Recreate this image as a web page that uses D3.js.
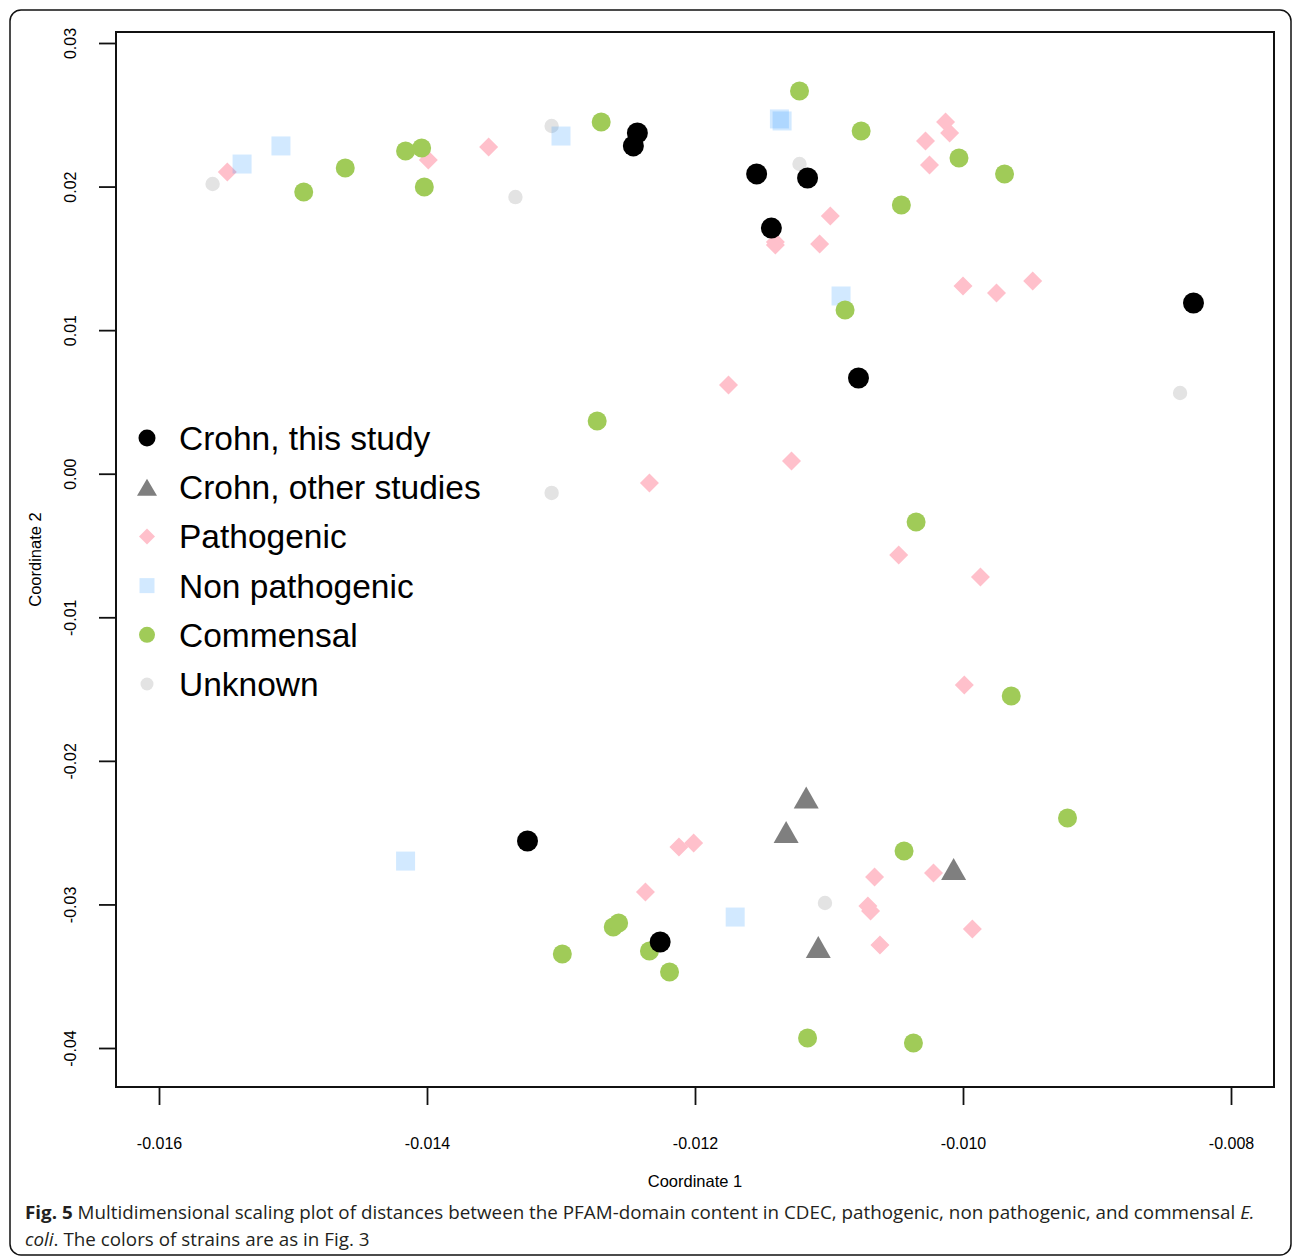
<!DOCTYPE html>
<html lang="en">
<head>
  <meta charset="UTF-8">
  <title>MDS plot of PFAM-domain content</title>
  <script src="https://d3js.org/d3.v7.min.js"></script>
  <style>
    body { margin: 0; background: #fff; }
    svg { display: block; }
    .tick text { font-family: "Liberation Sans", Arial, sans-serif; font-size: 16px; fill: #000; }
  </style>
</head>
<body>
  <svg width="1293" height="1257"></svg>
  <script>
    // ---- data ----
    const groups = ["Crohn, this study", "Crohn, other studies", "Pathogenic", "Non pathogenic", "Commensal", "Unknown"];

    const crohnThisX = [-0.01243, -0.01246, -0.01154, -0.01116, -0.01143, -0.00828, -0.01078, -0.01325, -0.01226];
    const crohnThisY = [0.02373, 0.02283, 0.02088, 0.02060, 0.01711, 0.01189, 0.00667, -0.02558, -0.03262];

    const crohnOtherX = [-0.01117, -0.01132, -0.01007, -0.01108];
    const crohnOtherY = [-0.02255, -0.02496, -0.02753, -0.03297];

    const pathoX = [-0.01549, -0.01399, -0.01354, -0.01013, -0.01010, -0.01028, -0.01025, -0.01099, -0.01140, -0.01140,
                    -0.01107, -0.01000, -0.00975, -0.00948, -0.01175, -0.01128, -0.01234, -0.01048, -0.00987, -0.00999,
                    -0.01212, -0.01201, -0.01237, -0.01066, -0.01071, -0.01069, -0.01022, -0.01062, -0.00993];
    const pathoY = [0.02101, 0.02185, 0.02276, 0.02450, 0.02373, 0.02317, 0.02150, 0.01795, 0.01614, 0.01593,
                    0.01600, 0.01307, 0.01259, 0.01342, 0.00618, 0.00089, -0.00065, -0.00566, -0.00719, -0.01472,
                    -0.02600, -0.02572, -0.02913, -0.02809, -0.03011, -0.03046, -0.02781, -0.03283, -0.03171];

    const nonPathoX = [-0.01538, -0.01509, -0.01300, -0.01137, -0.01135, -0.01091, -0.01416, -0.01170];
    const nonPathoY = [0.02157, 0.02283, 0.02352, 0.02471, 0.02457, 0.01238, -0.02698, -0.03088];

    const commX = [-0.01492, -0.01461, -0.01416, -0.01404, -0.01402, -0.01270, -0.01122, -0.01076, -0.01003, -0.00969,
                   -0.01046, -0.01088, -0.01273, -0.01035, -0.00964, -0.00922, -0.01044, -0.01261, -0.01257, -0.01299,
                   -0.01234, -0.01219, -0.01116, -0.01037];
    const commY = [0.01962, 0.02129, 0.02248, 0.02269, 0.01997, 0.02450, 0.02666, 0.02387, 0.02199, 0.02088,
                   0.01872, 0.01140, 0.00367, -0.00336, -0.01548, -0.02398, -0.02628, -0.03157, -0.03129, -0.03345,
                   -0.03324, -0.03471, -0.03930, -0.03965];

    const unkX = [-0.01560, -0.01334, -0.01307, -0.01122, -0.01307, -0.00838, -0.01103];
    const unkY = [0.02018, 0.01927, 0.02422, 0.02157, -0.00134, 0.00562, -0.02990];

    const xTicks = [-0.016, -0.014, -0.012, -0.010, -0.008];
    const xTickLabels = ["-0.016", "-0.014", "-0.012", "-0.010", "-0.008"];
    const yTicks = [0.03, 0.02, 0.01, 0.00, -0.01, -0.02, -0.03, -0.04];
    const yTickLabels = ["0.03", "0.02", "0.01", "0.00", "-0.01", "-0.02", "-0.03", "-0.04"];

    // ---- layout ----
    const box = { left: 116, right: 1274, top: 32, bottom: 1087 };
    const x = d3.scaleLinear().domain([-0.016, -0.008]).range([159, 1231]);
    const y = d3.scaleLinear().domain([0.03, -0.04]).range([43, 1048]);

    const svg = d3.select("svg");
    const font = "'Liberation Sans', Arial, sans-serif";

    // outer figure frame
    svg.append("rect")
       .attr("x", 10).attr("y", 10).attr("width", 1281).attr("height", 1245)
       .attr("rx", 11)
       .attr("fill", "none").attr("stroke", "#111").attr("stroke-width", 1.5);

    // marker shapes
    const diamond = h => `M0,${-h}L${h},0L0,${h}L${-h},0Z`;
    const square = s => `M${-s / 2},${-s / 2}h${s}v${s}h${-s}Z`;
    const triangle = (w, h) => `M0,${-h / 2}L${w / 2},${h / 2}L${-w / 2},${h / 2}Z`;

    const styles = {
      "Crohn, this study":    { kind: "circle", r: 10.5, fill: "#000" },
      "Crohn, other studies": { kind: "path", d: triangle(25, 22), fill: "#7f7f7f" },
      "Pathogenic":           { kind: "path", d: diamond(9.5), fill: "#ffc0cb" },
      "Non pathogenic":       { kind: "path", d: square(19), fill: "#1e90ff", opacity: 0.2 },
      "Commensal":            { kind: "circle", r: 9.5, fill: "#a0cb58" },
      "Unknown":              { kind: "circle", r: 7.2, fill: "#e3e3e3" }
    };
    const legendStyles = {
      "Crohn, this study":    { kind: "circle", r: 8.5, fill: "#000" },
      "Crohn, other studies": { kind: "path", d: triangle(20, 17), fill: "#7f7f7f" },
      "Pathogenic":           { kind: "path", d: diamond(8), fill: "#ffc0cb" },
      "Non pathogenic":       { kind: "path", d: square(15), fill: "#1e90ff", opacity: 0.2 },
      "Commensal":            { kind: "circle", r: 8, fill: "#a0cb58" },
      "Unknown":              { kind: "circle", r: 6.5, fill: "#e3e3e3" }
    };

    function pts(xs, ys) { return xs.map((v, i) => ({ x: v, y: ys[i] })); }

    // drawing order as in the figure
    const layers = [
      ["Unknown", pts(unkX, unkY)],
      ["Pathogenic", pts(pathoX, pathoY)],
      ["Non pathogenic", pts(nonPathoX, nonPathoY)],
      ["Commensal", pts(commX, commY)],
      ["Crohn, other studies", pts(crohnOtherX, crohnOtherY)],
      ["Crohn, this study", pts(crohnThisX, crohnThisY)]
    ];

    const plot = svg.append("g");
    layers.forEach(([name, data]) => {
      const st = styles[name];
      const g = plot.append("g");
      if (st.kind === "circle") {
        g.selectAll("circle").data(data).enter().append("circle")
         .attr("cx", d => x(d.x)).attr("cy", d => y(d.y))
         .attr("r", st.r).attr("fill", st.fill);
      } else {
        g.selectAll("path").data(data).enter().append("path")
         .attr("d", st.d)
         .attr("transform", d => `translate(${x(d.x)},${y(d.y)})`)
         .attr("fill", st.fill)
         .attr("fill-opacity", st.opacity || 1);
      }
    });

    // plot box
    svg.append("rect")
       .attr("x", box.left).attr("y", box.top)
       .attr("width", box.right - box.left).attr("height", box.bottom - box.top)
       .attr("fill", "none").attr("stroke", "#111").attr("stroke-width", 2);

    // x axis
    const xAxis = svg.append("g")
       .attr("transform", `translate(0,${box.bottom})`)
       .call(d3.axisBottom(x).tickValues(xTicks).tickFormat((d, i) => xTickLabels[i])
              .tickSize(18).tickPadding(33));
    xAxis.select(".domain").remove();
    xAxis.selectAll(".tick line").attr("stroke", "#111").attr("stroke-width", 1.8);

    // y axis
    const yAxis = svg.append("g")
       .attr("transform", `translate(${box.left},0)`)
       .call(d3.axisLeft(y).tickValues(yTicks).tickFormat((d, i) => yTickLabels[i]).tickSize(17));
    yAxis.select(".domain").remove();
    yAxis.selectAll(".tick line").attr("stroke", "#111").attr("stroke-width", 1.8);
    yAxis.selectAll(".tick text")
       .attr("x", 0).attr("dy", 0)
       .attr("text-anchor", "middle")
       .attr("transform", "translate(-40,0) rotate(-90)");

    // axis titles
    svg.append("text")
       .attr("x", (box.left + box.right) / 2).attr("y", 1187)
       .attr("text-anchor", "middle")
       .style("font-family", font).style("font-size", "16.5px")
       .text("Coordinate 1");
    svg.append("text")
       .attr("transform", `translate(41,${(box.top + box.bottom) / 2}) rotate(-90)`)
       .attr("text-anchor", "middle")
       .style("font-family", font).style("font-size", "16.5px")
       .text("Coordinate 2");

    // legend
    const legend = svg.append("g").attr("transform", "translate(147,438)");
    groups.forEach((name, i) => {
      const st = legendStyles[name];
      const row = legend.append("g").attr("transform", `translate(0,${i * 49.2})`);
      if (st.kind === "circle") {
        row.append("circle").attr("r", st.r).attr("fill", st.fill);
      } else {
        row.append("path").attr("d", st.d).attr("fill", st.fill).attr("fill-opacity", st.opacity || 1);
      }
      row.append("text")
         .attr("x", 32).attr("y", 12)
         .style("font-family", font).style("font-size", "33.5px")
         .text(name);
    });

    // caption
    const capFont = "'Open Sans', 'Noto Sans', sans-serif";
    const cap1 = svg.append("text")
       .attr("x", 0).attr("y", 0)
       .style("font-family", capFont).style("font-size", "18px").attr("fill", "#231f20");
    cap1.append("tspan").style("font-weight", "bold").text("Fig. 5");
    cap1.append("tspan").text(" Multidimensional scaling plot of distances between the PFAM-domain content in CDEC, pathogenic, non pathogenic, and commensal ");
    cap1.append("tspan").style("font-style", "italic").text("E.");

    const cap2 = svg.append("text")
       .attr("x", 0).attr("y", 0)
       .style("font-family", capFont).style("font-size", "18px").attr("fill", "#231f20");
    cap2.append("tspan").style("font-style", "italic").text("coli");
    cap2.append("tspan").text(". The colors of strains are as in Fig. 3");

    const w1 = cap1.node().getComputedTextLength();
    const sx = (1255 - 25) / w1;
    cap1.attr("transform", `translate(25,1219) scale(${sx},1)`);
    cap2.attr("transform", `translate(25,1246) scale(${sx},1)`);
  </script>
</body>
</html>
